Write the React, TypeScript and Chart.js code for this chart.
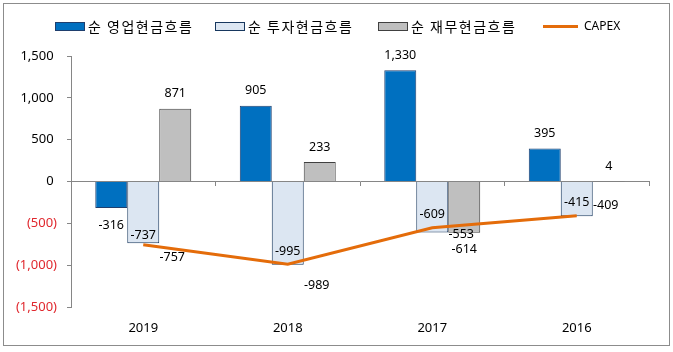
import React, { useEffect, useRef } from "react";
import { Chart, registerables } from "chart.js";

Chart.register(...registerables);

const categories = ["2019", "2018", "2017", "2016"];
const operatingCF = [-316, 905, 1330, 395];
const investingCF = [-737, -995, -609, -415];
const financingCF = [871, 233, -614, 4];
const capex = [-757, -989, -553, -409];
const seriesNames = ["순 영업현금흐름", "순 투자현금흐름", "순 재무현금흐름", "CAPEX"];
const yTickValues = [-1500, -1000, -500, 0, 500, 1000, 1500];

// label placement nudges (pixels), style only
const investingLabelNudge = [-8, -13, -18, -14];
const capexLabelNudge = [13, 21, 7, -10];

const NUM_FONT = '"Noto Sans", sans-serif';
const KR_FONT = '"Noto Sans CJK KR", "Noto Sans", sans-serif';

const colors = {
  op: "#0070C0",
  opBorder: "#1F3F6E",
  inv: "#DCE6F2",
  invBorder: "#17375E",
  fin: "#BFBFBF",
  finBorder: "#404040",
  capex: "#E46C0A",
  axis: "#868686",
  red: "#E0282E",
};

const fmtTick = (v: number) =>
  v < 0 ? `(${Math.abs(v).toLocaleString("en-US")})` : `${v.toLocaleString("en-US")} `;

const framePlugin = {
  id: "frameAndLegend",
  beforeDraw(chart: any) {
    const { ctx, width, height } = chart;
    ctx.save();
    ctx.fillStyle = "#fff";
    ctx.fillRect(0, 0, width, height);
    ctx.restore();
  },
  afterDraw(chart: any) {
    const ctx = chart.ctx;
    ctx.save();
    ctx.strokeStyle = "#8C8C8C";
    ctx.lineWidth = 1;
    ctx.strokeRect(3.5, 3.5, 666, 342);

    // legend
    const itemX = [55, 215, 378, 543];
    const fills = [colors.op, colors.inv, colors.fin];
    const borders = [colors.opBorder, colors.invBorder, colors.finBorder];
    ctx.textBaseline = "middle";
    ctx.textAlign = "left";
    ctx.fillStyle = "#000";
    for (let i = 0; i < 3; i++) {
      const x = itemX[i];
      ctx.fillStyle = fills[i];
      ctx.fillRect(x, 22, 30, 9);
      ctx.strokeStyle = borders[i];
      ctx.strokeRect(x + 0.5, 22.5, 29, 8);
      ctx.fillStyle = "#000";
      ctx.font = `14px ${KR_FONT}`;
      try {
        (ctx as any).letterSpacing = "1.5px";
      } catch (e) {}
      ctx.fillText(seriesNames[i], x + 33, 27);
      try {
        (ctx as any).letterSpacing = "0px";
      } catch (e) {}
    }
    ctx.strokeStyle = colors.capex;
    ctx.lineWidth = 3;
    ctx.beginPath();
    ctx.moveTo(itemX[3], 26.5);
    ctx.lineTo(itemX[3] + 35, 26.5);
    ctx.stroke();
    ctx.fillStyle = "#000";
    ctx.font = `12px ${NUM_FONT}`;
    ctx.fillText(seriesNames[3], itemX[3] + 41, 27);
    ctx.restore();
  },
};

const labelPlugin = {
  id: "valueLabels",
  afterDatasetsDraw(chart: any) {
    const ctx = chart.ctx;
    ctx.save();
    ctx.font = `12.5px ${NUM_FONT}`;
    ctx.fillStyle = "#000";
    ctx.textAlign = "center";
    ctx.textBaseline = "middle";
    const finMeta = chart.getDatasetMeta(3);
    chart.data.datasets.forEach((ds: any, di: number) => {
      const meta = chart.getDatasetMeta(di);
      meta.data.forEach((el: any, i: number) => {
        const v = ds.data[i];
        const text = v.toLocaleString("en-US");
        let x = el.x;
        let y = el.y;
        if (ds.type === "line") {
          x = finMeta.data[i].x - 3;
          y = el.y + capexLabelNudge[i];
        } else if (ds.labelInside) {
          y = el.y + investingLabelNudge[i];
        } else {
          y = v >= 0 ? el.y - 15 : el.y + 17;
        }
        ctx.fillText(text, x, y);
      });
    });
    ctx.restore();
  },
};

export default function App() {
  const ref = useRef<HTMLCanvasElement | null>(null);

  useEffect(() => {
    if (!ref.current) return;
    const chart = new Chart(ref.current, {
      type: "bar",
      data: {
        labels: categories,
        datasets: [
          {
            type: "line",
            label: seriesNames[3],
            data: capex,
            borderColor: colors.capex,
            backgroundColor: colors.capex,
            borderWidth: 3,
            pointRadius: 0,
            tension: 0,
            order: 0,
          } as any,
          {
            label: seriesNames[0],
            data: operatingCF,
            backgroundColor: colors.op,
            borderColor: colors.opBorder,
            borderWidth: 1,
            order: 1,
          },
          {
            label: seriesNames[1],
            data: investingCF,
            backgroundColor: colors.inv,
            borderColor: colors.invBorder,
            borderWidth: 1,
            labelInside: true,
            order: 1,
          } as any,
          {
            label: seriesNames[2],
            data: financingCF,
            backgroundColor: colors.fin,
            borderColor: colors.finBorder,
            borderWidth: 1,
            order: 1,
          },
        ],
      },
      options: {
        responsive: false,
        animation: false,
        datasets: {
          bar: {
            barPercentage: 1,
            categoryPercentage: 0.664,
          },
        },
        layout: { padding: { left: 0, top: 56, right: 24, bottom: 0 } },
        plugins: {
          legend: { display: false },
          tooltip: { enabled: false },
        },
        scales: {
          x: {
            position: { y: 0 } as any,
            ticks: { display: false },
            grid: {
              offset: true,
              drawOnChartArea: false,
              drawTicks: true,
              tickLength: 4,
              color: colors.axis,
            },
            border: { display: true, color: colors.axis },
          },
          x2: {
            type: "category",
            position: "bottom",
            grid: { display: false, drawTicks: false },
            border: { display: false },
            ticks: {
              color: "#000",
              font: { family: NUM_FONT, size: 13 },
              padding: 13,
            },
            afterFit: (s: any) => {
              s.height = 45;
            },
          },
          y: {
            min: -1500,
            max: 1500,
            afterBuildTicks: (s: any) => {
              s.ticks = yTickValues.map((v) => ({ value: v }));
            },
            afterFit: (s: any) => {
              s.width = 71;
            },
            ticks: {
              padding: 10,
              font: { family: NUM_FONT, size: 13 },
              color: (c: any) => (c.tick && c.tick.value < 0 ? colors.red : "#000"),
              callback: (v: any) => fmtTick(Number(v)),
            },
            grid: {
              drawOnChartArea: false,
              drawTicks: true,
              tickLength: 4,
              color: colors.axis,
            },
            border: { display: true, color: colors.axis },
          },
        },
      },
      plugins: [framePlugin, labelPlugin],
    } as any);
    return () => chart.destroy();
  }, []);

  return (
    <div style={{ position: "absolute", left: 0, top: 0, width: 673, height: 352 }}>
      <canvas ref={ref} width={673} height={352} />
    </div>
  );
}
